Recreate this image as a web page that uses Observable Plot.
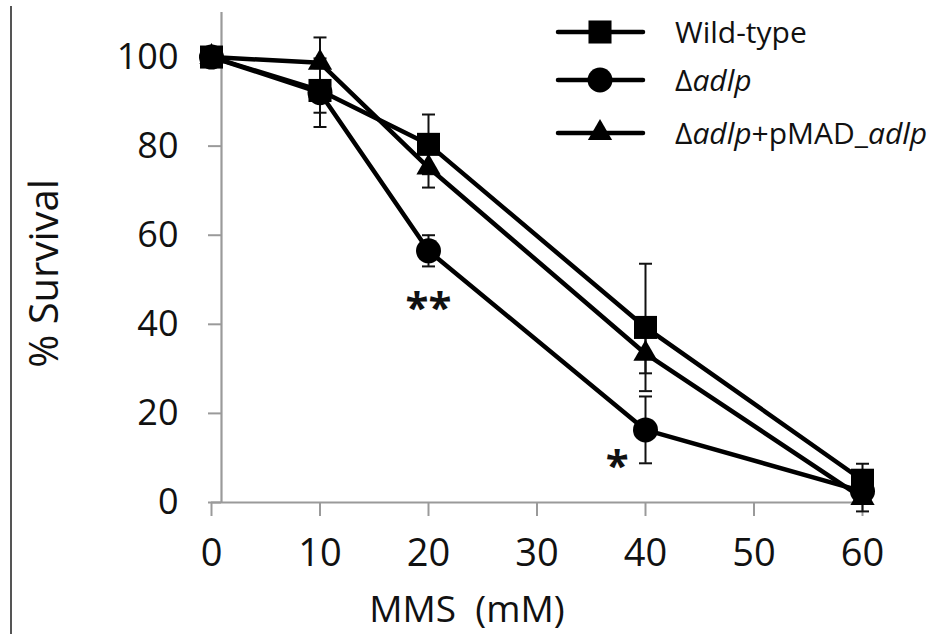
<!DOCTYPE html>
<html>
<head>
<meta charset="utf-8">
<script src="https://cdn.jsdelivr.net/npm/d3@7"></script>
<script src="https://cdn.jsdelivr.net/npm/@observablehq/plot@0.6"></script>
<style>
  html, body { margin: 0; padding: 0; background: #fff; }
  #wrap { position: relative; width: 935px; height: 634px; overflow: hidden; }
  #edge { position: absolute; left: 10px; top: 6px; width: 2px; height: 640px; background: #555; }
</style>
</head>
<body>
<div id="wrap"><div id="edge"></div><div id="chart"></div></div>
<script>
// ---- data ----
const doses = [0, 10, 20, 40, 60];
const seriesNames = ["Wild-type", "Δadlp", "Δadlp+pMAD_adlp"];
const wildType = [100, 92.5, 80.4, 39.3, 5];
const wildTypeErr = [0, 5, 6.7, 14.3, 3.7];
const deltaAdlp = [100, 92, 56.5, 16.3, 2.5];
const deltaAdlpErr = [0, 7.7, 3.5, 7.5, 2];
const complemented = [100, 98.7, 75.2, 33.4, 1];
const complementedErr = [0, 5.7, 4.5, 4.4, 3];
const xTicks = [0, 10, 20, 30, 40, 50, 60];
const yTicks = [0, 20, 40, 60, 80, 100];
const stars = [{dose: 20, y: 43.5, label: "**"}, {dose: 37.4, y: 8, label: "*"}];

const symbols = ["square", "circle", "triangle"];
const symbolR = [13, 12.5, 9];
const valuesList = [wildType, deltaAdlp, complemented];
const errList = [wildTypeErr, deltaAdlpErr, complementedErr];

const series = seriesNames.map((name, i) =>
  doses.map((d, j) => ({series: name, dose: d, value: valuesList[i][j], err: errList[i][j]}))
);

const capSymbol = { draw(ctx) { ctx.moveTo(-6.5, 0); ctx.lineTo(6.5, 0); } };

const marks = [
  Plot.ruleX([0], {dx: 10, stroke: "#9a9a9a", strokeWidth: 2.2}),
  Plot.ruleY([0], {stroke: "#9a9a9a", strokeWidth: 2.2}),
  Plot.axisY({ticks: yTicks, dx: 10, tickSize: 13, tickPadding: 30, fontSize: 36, stroke: "#9a9a9a", strokeWidth: 2, fill: "#111", label: null}),
  Plot.axisX({ticks: xTicks, tickSize: 14, tickPadding: 23, fontSize: 38, stroke: "#9a9a9a", strokeWidth: 2, fill: "#111", label: null}),
];

series.forEach((s, i) => {
  const withErr = s.filter(d => d.err > 0);
  marks.push(
    Plot.ruleX(withErr, {x: "dose", y1: d => d.value - d.err, y2: d => d.value + d.err, stroke: "#111", strokeWidth: 2}),
    Plot.dot(withErr, {x: "dose", y: d => d.value + d.err, symbol: capSymbol, stroke: "#111", strokeWidth: 2, r: 6}),
    Plot.dot(withErr, {x: "dose", y: d => d.value - d.err, symbol: capSymbol, stroke: "#111", strokeWidth: 2, r: 6})
  );
});
series.forEach((s, i) => {
  marks.push(
    Plot.line(s, {x: "dose", y: "value", stroke: "#000", strokeWidth: 4.5}),
    Plot.dot(s, {x: "dose", y: "value", symbol: symbols[i], r: symbolR[i], fill: "#000", stroke: "none"})
  );
});
marks.push(
  Plot.text(stars, {x: "dose", y: "y", text: "label", fontSize: 42, fontWeight: "bold", fill: "#111", lineAnchor: "middle"}),
  Plot.text(["MMS  (mM)"], {frameAnchor: "bottom", dx: -70, dy: 108, fontSize: 37, fill: "#111", textAnchor: "middle", lineAnchor: "middle"}),
  Plot.text(["% Survival"], {frameAnchor: "left", dx: -166, dy: 16, rotate: -90, fontSize: 40, fill: "#111", textAnchor: "middle", lineAnchor: "middle"})
);

const svg = Plot.plot({
  width: 935,
  height: 634,
  marginLeft: 211,
  marginRight: 73,
  marginTop: 12,
  marginBottom: 132,
  x: {domain: [0, 60]},
  y: {domain: [0, 110]},
  style: {fontFamily: "Open Sans", background: "transparent", overflow: "visible"},
  marks
});

// legend
const lg = d3.select(svg).append("g")
  .attr("font-family", "Open Sans").attr("font-size", 30).attr("fill", "#111").attr("text-anchor", "start");
const legendParts = [
  [{t: "Wild-type", i: false}],
  [{t: "Δ", i: false}, {t: "adlp", i: true}],
  [{t: "Δ", i: false}, {t: "adlp", i: true}, {t: "+pMAD_", i: false}, {t: "adlp", i: true}]
];
const legendY = [32, 80, 133];
legendParts.forEach((parts, i) => {
  const g = lg.append("g").attr("transform", `translate(0,${legendY[i]})`);
  g.append("line").attr("x1", 558).attr("x2", 643).attr("y1", 0).attr("y2", 0).attr("stroke", "#000").attr("stroke-width", 4.5).attr("stroke-linecap", "round");
  g.append("path").attr("transform", "translate(600,0)").attr("d", d3.symbol(
    [d3.symbolSquare, d3.symbolCircle, d3.symbolTriangle][i], Math.PI * symbolR[i] * symbolR[i])()).attr("fill", "#000");
  const t = g.append("text").attr("x", 675).attr("dy", "0.35em").attr("text-anchor", "start");
  parts.forEach(p => t.append("tspan").text(p.t).attr("font-style", p.i ? "italic" : null));
});

document.getElementById("chart").appendChild(svg);
</script>
</body>
</html>
